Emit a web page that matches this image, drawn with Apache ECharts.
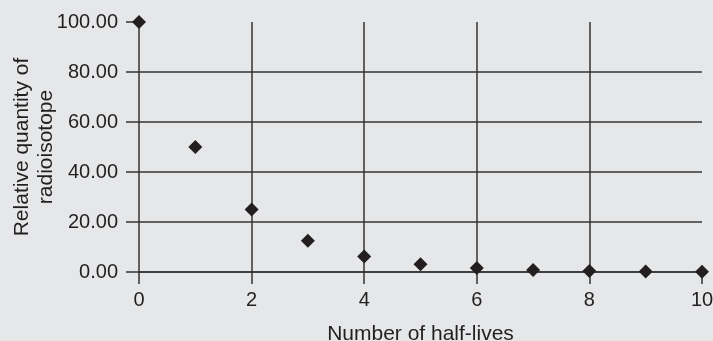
<!DOCTYPE html>
<html>
<head>
<meta charset="utf-8">
<script src="https://cdn.jsdelivr.net/npm/echarts@6/dist/echarts.min.js"></script>
<style>
  html, body { margin: 0; padding: 0; background: #e6e7e8; }
  #main { width: 713px; height: 341px; }
</style>
</head>
<body>
<div id="main"></div>
<script>
// half-lives elapsed and the quantity left (percent)
const halfLives = [0, 1, 2, 3, 4, 5, 6, 7, 8, 9, 10];
const quantity = [100, 50, 25, 12.5, 6.25, 3.13, 1.56, 0.78, 0.39, 0.2, 0.1];

const ink = '#231f20';
const lineCol = '#353535';
const font = "'Liberation Sans', Arial, sans-serif";

let myChart = echarts.init(document.getElementById('main'));

let option = {
  backgroundColor: '#e6e7e8',
  animation: false,
  grid: { left: 139, right: 11, top: 22, bottom: 69, containLabel: false, outerBoundsMode: 'none' },
  xAxis: {
    type: 'value',
    min: 0,
    max: 10,
    interval: 2,
    name: 'Number of half-lives',
    nameLocation: 'middle',
    nameGap: 52,
    nameMoveOverlap: false,
    nameTextStyle: { color: ink, fontSize: 21, fontFamily: font },
    axisLine: { show: true, onZero: false, lineStyle: { color: lineCol, width: 1.5 } },
    axisTick: { show: true, length: 12, lineStyle: { color: lineCol, width: 1.5 } },
    axisLabel: { color: ink, fontSize: 20, fontFamily: font, margin: 18 },
    splitLine: {
      show: true,
      showMinLine: false,
      showMaxLine: false,
      lineStyle: { color: lineCol, width: 1.5 }
    }
  },
  yAxis: {
    type: 'value',
    min: 0,
    max: 100,
    interval: 20,
    name: 'Relative quantity of\nradioisotope',
    nameLocation: 'middle',
    nameRotate: 90,
    nameGap: 81,
    nameMoveOverlap: false,
    nameTextStyle: { color: ink, fontSize: 21, fontFamily: font, lineHeight: 24 },
    axisLine: { show: true, onZero: false, lineStyle: { color: lineCol, width: 1.5 } },
    axisTick: { show: true, length: 13, lineStyle: { color: lineCol, width: 1.5 } },
    axisLabel: {
      color: ink, fontSize: 20, fontFamily: font, margin: 21,
      formatter: v => v.toFixed(2)
    },
    splitLine: {
      show: true,
      showMaxLine: false,
      lineStyle: { color: lineCol, width: 1.5 }
    }
  },
  series: [{
    type: 'scatter',
    data: halfLives.map((x, i) => [x, quantity[i]]),
    symbol: 'diamond',
    symbolSize: 14,
    itemStyle: { color: ink, opacity: 1 }
  }]
};

myChart.setOption(option);
</script>
</body>
</html>
